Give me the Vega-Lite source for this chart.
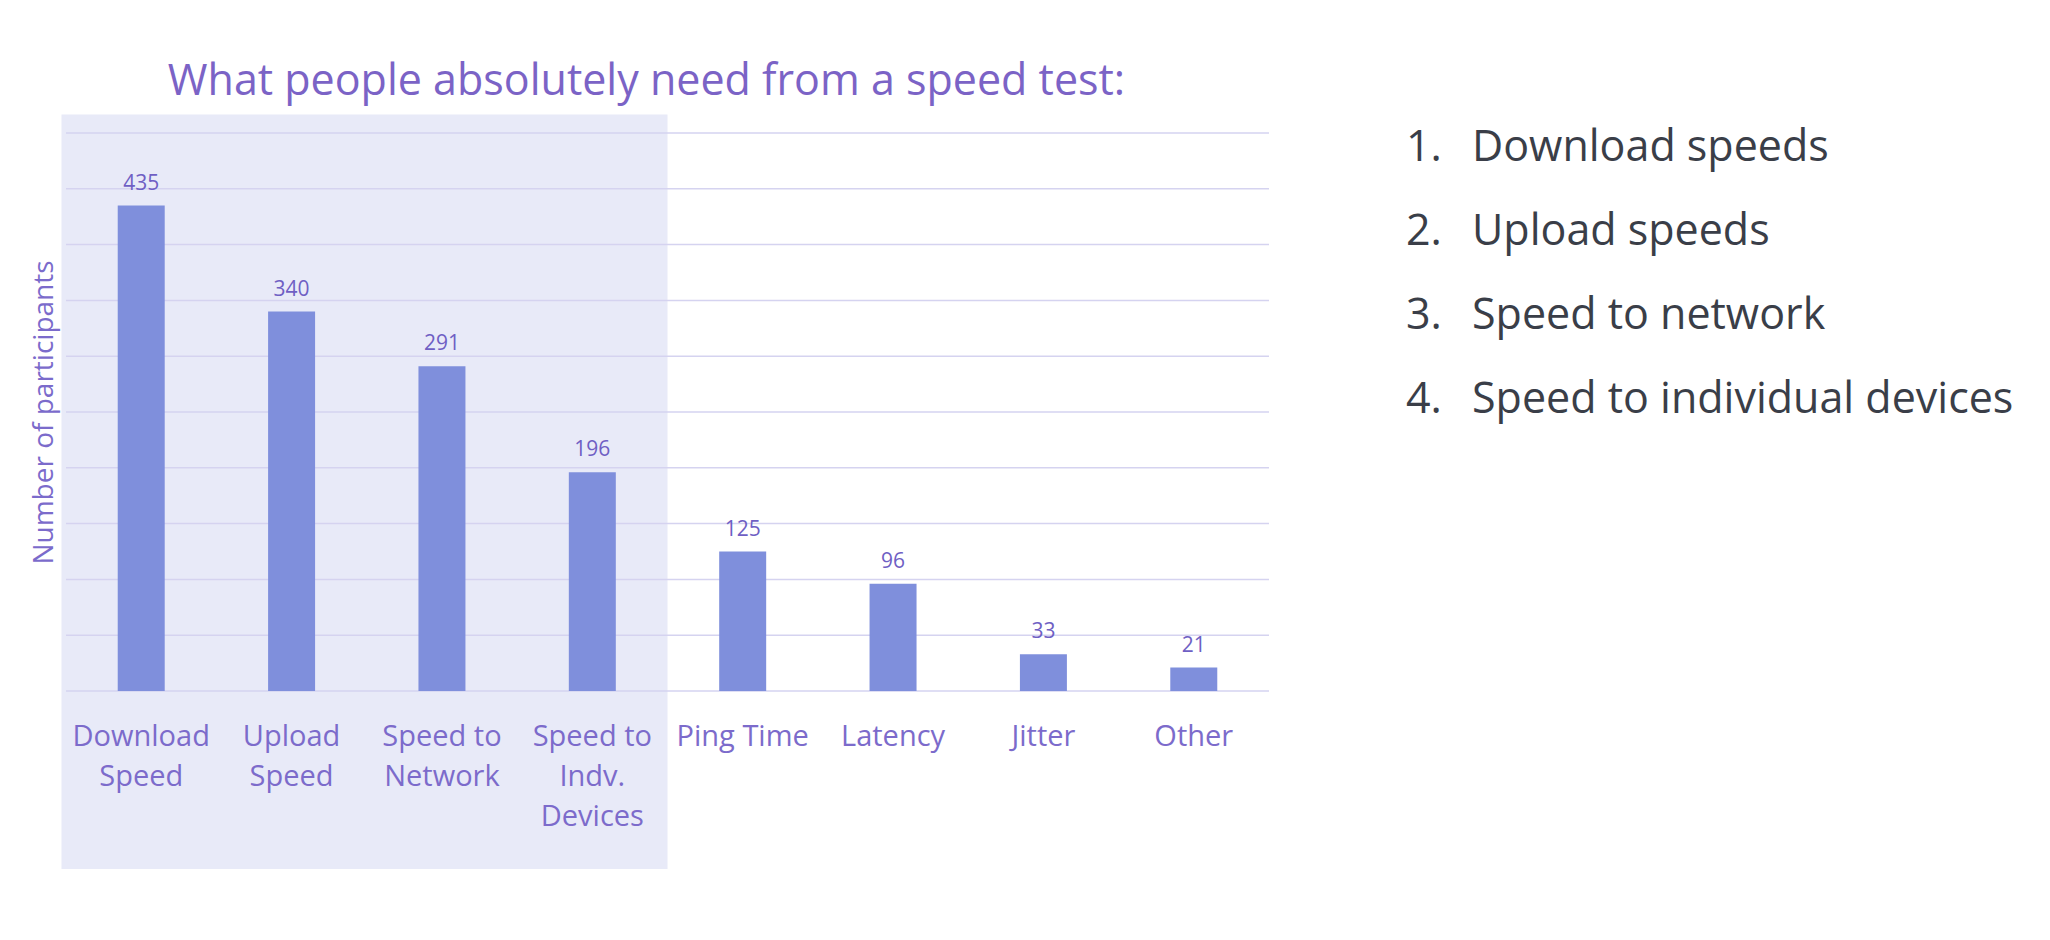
{
  "$schema": "https://vega.github.io/schema/vega-lite/v6.json",
  "background": "white",
  "padding": {"left": 30, "top": 60, "right": 5, "bottom": 5},
  "config": {"view": {"stroke": null}, "font": "Open Sans"},
  "datasets": {
    "bars": [
      {"category": "Download Speed", "participants": 435},
      {"category": "Upload Speed", "participants": 340},
      {"category": "Speed to Network", "participants": 291},
      {"category": "Speed to Indv. Devices", "participants": 196},
      {"category": "Ping Time", "participants": 125},
      {"category": "Latency", "participants": 96},
      {"category": "Jitter", "participants": 33},
      {"category": "Other", "participants": 21}
    ],
    "grid": [
      {"v": 0}, {"v": 50}, {"v": 100}, {"v": 150}, {"v": 200}, {"v": 250},
      {"v": 300}, {"v": 350}, {"v": 400}, {"v": 450}, {"v": 500}
    ],
    "list": [
      {"rank": 1, "num": "1.", "item": "Download speeds"},
      {"rank": 2, "num": "2.", "item": "Upload speeds"},
      {"rank": 3, "num": "3.", "item": "Speed to network"},
      {"rank": 4, "num": "4.", "item": "Speed to individual devices"}
    ]
  },
  "hconcat": [
    {
      "width": 1203,
      "height": 558,
      "title": {
        "text": "What people absolutely need from a speed test:",
        "fontSize": 43,
        "fontWeight": "normal",
        "color": "#7B63C6",
        "anchor": "middle",
        "offset": 11,
        "dx": -21
      },
      "layer": [
        {
          "data": {"values": [{"region": "top four"}]},
          "mark": {"type": "rect", "color": "#E8EAF8"},
          "encoding": {
            "x": {"datum": -0.03, "type": "quantitative", "scale": {"domain": [0, 8]}, "axis": null},
            "x2": {"datum": 4},
            "y": {"datum": 516.5, "type": "quantitative", "scale": {"domain": [0, 500]}, "axis": null},
            "y2": {"datum": -159.4}
          }
        },
        {
          "data": {"name": "grid"},
          "mark": {"type": "rule", "color": "#D5D3F0", "strokeWidth": 1.5},
          "encoding": {
            "y": {"field": "v", "type": "quantitative", "scale": {"domain": [0, 500]}, "axis": null}
          }
        },
        {
          "data": {"name": "bars"},
          "encoding": {
            "x": {
              "field": "category",
              "type": "nominal",
              "sort": null,
              "scale": {"paddingInner": 0.6875, "paddingOuter": 0.344},
              "axis": {
                "title": null,
                "zindex": 2,
                "labelAngle": 0,
                "labelFontSize": 29,
                "labelColor": "#7C6BCB",
                "labelPadding": 31,
                "labelLineHeight": 40,
                "labelLimit": 0,
                "labelOverlap": false,
                "labelBaseline": "top",
                "domain": false,
                "ticks": false,
                "grid": false,
                "labelExpr": "datum.label == 'Download Speed' ? ['Download','Speed'] : datum.label == 'Upload Speed' ? ['Upload','Speed'] : datum.label == 'Speed to Network' ? ['Speed to','Network'] : datum.label == 'Speed to Indv. Devices' ? ['Speed to','Indv.','Devices'] : datum.label"
              }
            },
            "y": {
              "field": "participants",
              "type": "quantitative",
              "scale": {"domain": [0, 500]},
              "axis": {
                "orient": "left",
                "zindex": 2,
                "title": "Number of participants",
                "titleFontSize": 28,
                "titleFontWeight": "normal",
                "titleColor": "#7B6BCB",
                "titlePadding": 8,
                "labels": false,
                "ticks": false,
                "domain": false,
                "grid": false
              }
            }
          },
          "layer": [
            {"mark": {"type": "bar", "color": "#7F8FDC"}},
            {
              "mark": {"type": "text", "baseline": "alphabetic", "dy": -16, "fontSize": 21, "color": "#6F5FC4"},
              "encoding": {"text": {"field": "participants", "type": "quantitative"}}
            }
          ]
        }
      ],
      "resolve": {"scale": {"x": "independent", "y": "independent"}}
    },
    {
      "width": 660,
      "height": 308,
      "data": {"name": "list"},
      "encoding": {
        "y": {"field": "rank", "type": "ordinal", "scale": {"type": "point", "padding": 0.338}, "axis": null}
      },
      "layer": [
        {
          "mark": {"type": "text", "align": "left", "baseline": "alphabetic", "fontSize": 43, "color": "#3A3E48"},
          "encoding": {
            "x": {"datum": 0, "type": "quantitative", "scale": {"domain": [0, 10]}, "axis": null},
            "text": {"field": "num"}
          }
        },
        {
          "mark": {"type": "text", "align": "left", "baseline": "alphabetic", "fontSize": 43, "color": "#3A3E48"},
          "encoding": {
            "x": {"datum": 1, "type": "quantitative", "scale": {"domain": [0, 10]}, "axis": null},
            "text": {"field": "item"}
          }
        }
      ]
    }
  ],
  "spacing": 136
}
